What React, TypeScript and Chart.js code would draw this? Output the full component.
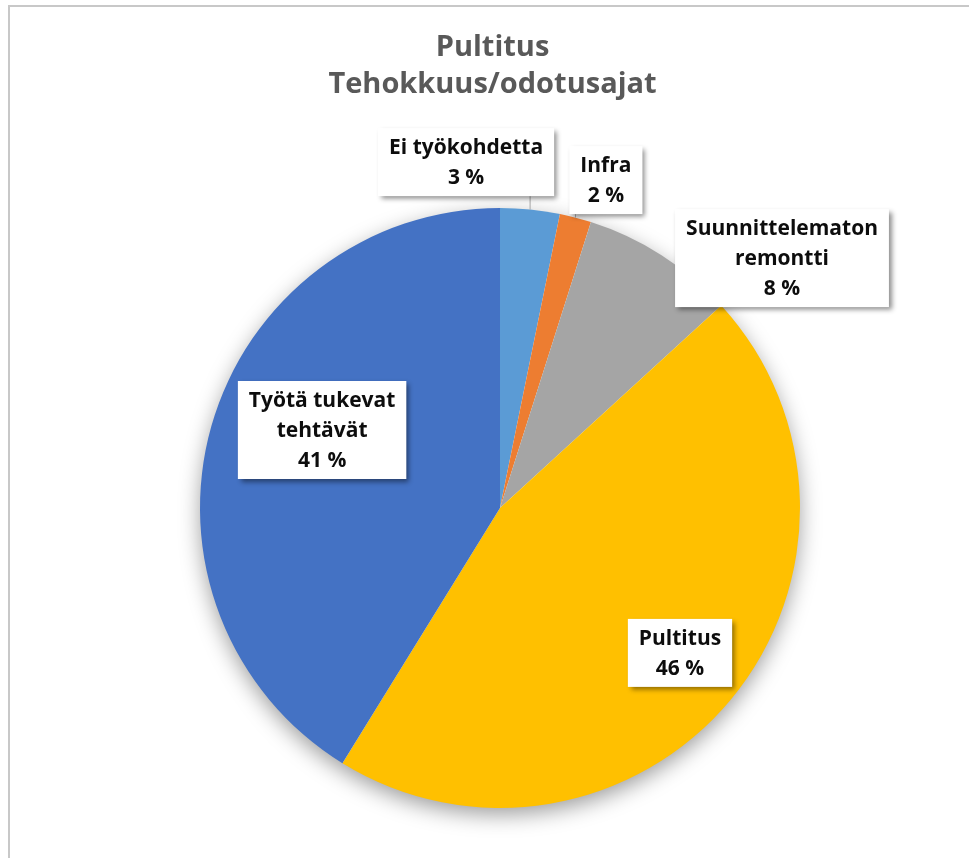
import React, { useEffect, useRef } from "react";
import { Chart, registerables } from "chart.js";
Chart.register(...registerables);

const categories = ["Ei työkohdetta", "Infra", "Suunnittelematon remontti", "Pultitus", "Työtä tukevat tehtävät"];
const labelLines = [["Ei työkohdetta"], ["Infra"], ["Suunnittelematon", "remontti"], ["Pultitus"], ["Työtä tukevat", "tehtävät"]];
const values = [3.2, 1.7, 8.3, 45.6, 41.2];
const colors = ["#5B9BD5", "#ED7D31", "#A5A5A5", "#FFC000", "#4472C4"];
const titleLines = ["Pultitus", "Tehokkuus/odotusajat"];
// label box centres, relative to pie centre, in units of the pie radius
const labelPlacement = [
  [-0.113, -1.153],
  [0.353, -1.093],
  [0.94, -0.833],
  [0.6, 0.483],
  [-0.593, -0.26],
];
const leaderLines = [true, true, false, false, false];

const FONT = "'Open Sans', Lato, sans-serif";

const decorPlugin = {
  id: "decor",
  beforeDraw(chart: any) {
    const ctx = chart.ctx;
    ctx.save();
    ctx.fillStyle = "#ffffff";
    ctx.fillRect(0, 0, chart.width, chart.height);
    ctx.strokeStyle = "#c8c8c8";
    ctx.lineWidth = 2;
    ctx.beginPath();
    ctx.moveTo(9, chart.height);
    ctx.lineTo(9, 6);
    ctx.lineTo(chart.width, 6);
    ctx.stroke();
    // title
    ctx.fillStyle = "#595959";
    ctx.font = `bold 29px ${FONT}`;
    ctx.textAlign = "center";
    ctx.textBaseline = "alphabetic";
    titleLines.forEach((t, i) => ctx.fillText(t, chart.width / 2 + 8, 56 + i * 37));
    ctx.restore();
  },
  beforeDatasetsDraw(chart: any) {
    const meta = chart.getDatasetMeta(0);
    const el = meta.data[0];
    if (!el) return;
    const { x, y, outerRadius } = el.getProps(["x", "y", "outerRadius"], true);
    const ctx = chart.ctx;
    ctx.save();
    ctx.shadowColor = "rgba(0,0,0,0.4)";
    ctx.shadowBlur = 22;
    ctx.shadowOffsetX = 0;
    ctx.shadowOffsetY = 7;
    ctx.fillStyle = "#ffffff";
    ctx.beginPath();
    ctx.arc(x, y, outerRadius - 1, 0, Math.PI * 2);
    ctx.fill();
    ctx.restore();
  },
  afterDatasetsDraw(chart: any) {
    const meta = chart.getDatasetMeta(0);
    const ctx = chart.ctx;
    const total = values.reduce((a, b) => a + b, 0);
    meta.data.forEach((el: any, i: number) => {
      const { x, y, startAngle, endAngle, outerRadius } = el.getProps(
        ["x", "y", "startAngle", "endAngle", "outerRadius"],
        true
      );
      const R = outerRadius;
      const cx = x + labelPlacement[i][0] * R;
      const cy = y + labelPlacement[i][1] * R;
      const lines = [...labelLines[i], `${Math.round((values[i] / total) * 100)} %`];
      ctx.save();
      ctx.font = `bold 21px ${FONT}`;
      const lh = 30;
      const w = Math.max(...lines.map((l: string) => ctx.measureText(l).width)) + 22;
      const h = lines.length * lh + 8;
      const bx = cx - w / 2;
      const by = cy - h / 2;
      if (leaderLines[i]) {
        const mid = (startAngle + endAngle) / 2;
        const ax = x + Math.cos(mid) * R;
        const ay = y + Math.sin(mid) * R;
        const tx = Math.min(Math.max(ax, bx), bx + w);
        const ty = Math.min(Math.max(ay, by), by + h);
        ctx.strokeStyle = "#a6a6a6";
        ctx.lineWidth = 1;
        ctx.beginPath();
        ctx.moveTo(ax, ay);
        ctx.lineTo(tx, ty);
        ctx.stroke();
      }
      ctx.shadowColor = "rgba(0,0,0,0.45)";
      ctx.shadowBlur = 5;
      ctx.shadowOffsetX = 3;
      ctx.shadowOffsetY = 3;
      ctx.fillStyle = "#ffffff";
      ctx.fillRect(bx, by, w, h);
      ctx.shadowColor = "transparent";
      ctx.fillStyle = "#0d0d0d";
      ctx.textAlign = "center";
      ctx.textBaseline = "middle";
      lines.forEach((l: string, k: number) => {
        ctx.fillText(l, cx, by + 4 + lh * k + lh / 2 + 1);
      });
      ctx.restore();
    });
  },
};

export default function App() {
  const ref = useRef<HTMLCanvasElement>(null);
  useEffect(() => {
    if (!ref.current) return;
    const chart = new Chart(ref.current, {
      type: "pie",
      data: {
        labels: categories,
        datasets: [
          {
            data: values,
            backgroundColor: colors,
            borderWidth: 0,
          },
        ],
      },
      options: {
        animation: false,
        responsive: false,
        maintainAspectRatio: false,
        layout: { padding: { left: 200, right: 169, top: 208, bottom: 50 } },
        plugins: {
          legend: { display: false },
          title: { display: false },
          tooltip: { enabled: false },
        },
      },
      plugins: [decorPlugin],
    });
    return () => chart.destroy();
  }, []);
  return (
    <div style={{ position: "absolute", left: 0, top: 0, width: 969, height: 858, background: "#fff" }}>
      <canvas ref={ref} width={969} height={858} style={{ display: "block", width: 969, height: 858 }} />
    </div>
  );
}
